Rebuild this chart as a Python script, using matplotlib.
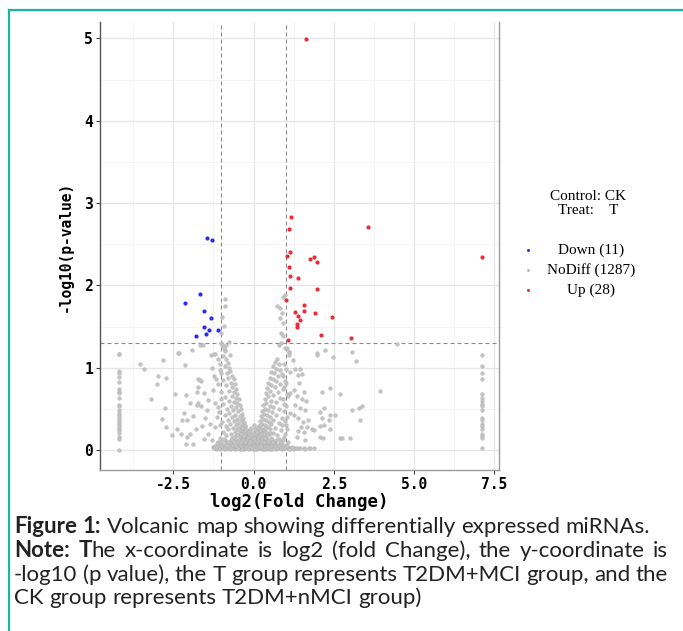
import numpy as np
import matplotlib
matplotlib.use('Agg')
import matplotlib.pyplot as plt
from matplotlib.lines import Line2D

# ---------------- values ----------------
up_x = [1.63, 1.165, 1.10, 3.56, 1.15, 1.05, 1.89, 1.745, 1.975, 1.09, 1.13, 1.38, 1.13, 1.99,
        1.01, 1.56, 1.29, 1.56, 1.38, 1.90, 2.45, 1.46, 1.36, 1.35, 2.10, 3.04, 1.08, 7.12]
up_y = [4.99, 2.83, 2.685, 2.71, 2.40, 2.357, 2.345, 2.317, 2.284, 2.224, 2.12, 2.09, 1.97, 1.95,
        1.82, 1.76, 1.68, 1.69, 1.63, 1.66, 1.62, 1.575, 1.53, 1.50, 1.40, 1.357, 1.34, 2.345]

down_x = [-1.45, -1.30, -1.66, -2.13, -1.535, -1.33, -1.535, -1.40, -1.10, -1.47, -1.79]
down_y = [2.58, 2.555, 1.90, 1.78, 1.685, 1.60, 1.49, 1.46, 1.455, 1.41, 1.385]

# the two stacks of points at the extreme fold changes
left_col_x = -4.20
left_col_y = [1.17, 1.17, 0.96, 0.93, 0.89, 0.83, 0.74, 0.71, 0.69, 0.63, 0.55, 0.53, 0.49,
              0.45, 0.43, 0.40, 0.37, 0.34, 0.32, 0.29, 0.26, 0.24, 0.21, 0.16, 0.13, 0.0]
right_col_x = 7.13
right_col_y = [1.15, 1.02, 0.93, 0.86, 0.68, 0.63, 0.60, 0.56, 0.53, 0.49, 0.39, 0.36, 0.32,
               0.29, 0.26, 0.20, 0.17, 0.15, 0.02]

grey_left = [(-3.55, 1.05), (-3.40, 0.98), (-2.81, 1.09), (-2.35, 1.18), (-1.93, 1.22), (-2.12, 1.03),
             (-2.97, 0.90), (-2.71, 0.87), (-3.01, 0.80), (-3.18, 0.62), (-2.45, 0.68), (-2.11, 0.67),
             (-1.74, 0.86), (-1.64, 0.84), (-1.74, 0.77), (-1.76, 0.71), (-1.54, 0.69), (-2.76, 0.51),
             (-2.84, 0.38), (-2.71, 0.28), (-2.55, 0.18), (-1.98, 0.575), (-1.72, 0.57), (-1.62, 0.53),
             (-2.16, 0.45), (-2.24, 0.365), (-2.06, 0.365), (-1.88, 0.41), (-2.37, 0.25), (-2.26, 0.20),
             (-2.08, 0.16), (-1.98, 0.195), (-2.11, 0.07), (-1.88, 0.07), (-1.80, 0.25), (-1.60, 0.29),
             (-1.51, 0.385), (-1.41, 0.61), (-1.46, 0.48), (-1.54, 0.13), (-1.41, 0.20), (-1.36, 0.32),
             (-1.30, 0.12), (-1.26, 0.04), (-1.22, 0.90), (-1.18, 0.86), (-1.29, 1.00), (-1.33, 1.15),
             (-1.67, 1.28), (-1.57, 1.28), (-1.22, 1.17), (-1.12, 1.11), (-1.26, 0.73), (-1.20, 0.57),
             (-1.14, 0.405), (-1.20, 0.28), (-2.31, 1.175), (-1.19, 1.17), (-1.66, 0.85), (-1.76, 0.55),
             (-1.04, 1.05), (-1.00, 0.93), (-1.10, 0.80), (-1.02, 0.62), (-1.12, 0.52), (-1.05, 0.30),
             (-1.12, 0.10)]

grey_near_cut = [(-0.90, 1.84), (-0.88, 1.75), (-0.98, 1.61), (-0.93, 1.51), (-1.02, 1.42), (-0.75, 1.31),
                 (-0.85, 1.28), (-1.02, 1.30), (-0.88, 1.21), (-0.73, 1.15), (0.73, 1.75), (0.81, 1.72),
                 (0.92, 1.86), (0.99, 1.88), (0.88, 1.67), (0.83, 1.60), (0.93, 1.54), (0.86, 1.42),
                 (0.92, 1.38), (0.85, 1.30), (0.78, 1.28), (1.04, 1.24), (1.12, 1.19), (1.10, 1.15),
                 (4.47, 1.29)]

grey_right = [(0.99, 1.24), (1.09, 1.19), (1.23, 1.09), (1.14, 0.95), (1.30, 0.98), (1.40, 0.91),
              (1.51, 0.92), (1.43, 0.81), (1.25, 0.73), (1.14, 0.69), (1.58, 0.70), (1.35, 0.65),
              (1.51, 0.62), (1.64, 0.59), (1.30, 0.55), (1.45, 0.51), (1.61, 0.49), (1.25, 0.425),
              (1.40, 0.385), (1.54, 0.345), (1.71, 0.37), (1.82, 0.26), (1.66, 0.275), (1.48, 0.275),
              (1.40, 0.235), (1.56, 0.22), (1.87, 0.24), (1.35, 0.16), (1.61, 0.12), (1.25, 0.03),
              (1.40, 0.03), (1.56, 0.03), (1.74, 0.03), (1.99, 1.18), (1.99, 1.16), (2.23, 1.22),
              (2.47, 1.13), (3.07, 1.19), (3.19, 1.085), (2.13, 0.70), (2.37, 0.75), (2.68, 0.68),
              (3.95, 0.72), (2.08, 0.465), (2.21, 0.505), (2.39, 0.425), (2.55, 0.425), (2.13, 0.385),
              (2.34, 0.365), (2.06, 0.29), (2.20, 0.30), (2.39, 0.26), (3.07, 0.49), (3.27, 0.51),
              (3.38, 0.53), (3.32, 0.37), (2.06, 0.16), (2.16, 0.14), (2.68, 0.15), (2.75, 0.15),
              (3.01, 0.15), (1.77, 0.02), (1.87, 0.03), (1.45, 0.98), (0.95, 1.05), (1.00, 0.98),
              (0.92, 0.90), (1.02, 0.82), (0.96, 0.76), (1.04, 0.68), (0.93, 0.62), (1.00, 0.54),
              (0.94, 0.47), (1.05, 0.40), (0.98, 0.35), (0.90, 0.30), (1.03, 0.26), (0.97, 0.20),
              (0.92, 0.12), (1.06, 0.10), (1.00, 0.06)]

grey_arm_left = [(-0.98, 1.28), (-0.93, 1.24), (-0.88, 1.20), (-0.95, 1.14), (-0.85, 1.10), (-0.80, 1.06),
                 (-0.90, 1.02), (-0.76, 1.00), (-0.72, 0.96), (-0.83, 0.94), (-1.05, 0.97), (-0.68, 0.90),
                 (-0.78, 0.88), (-0.62, 0.86), (-0.95, 0.85), (-0.70, 0.82), (-0.58, 0.80), (-0.86, 0.79),
                 (-0.66, 0.76), (-0.55, 0.74), (-0.75, 0.72), (-1.00, 0.70), (-0.60, 0.70), (-0.50, 0.68),
                 (-0.68, 0.66), (-0.88, 0.64), (-0.56, 0.63), (-0.45, 0.62), (-0.75, 0.60), (-0.62, 0.58),
                 (-0.50, 0.57), (-0.95, 0.56), (-0.42, 0.55), (-0.70, 0.54), (-0.55, 0.52), (-0.82, 0.50),
                 (-0.40, 0.50), (-0.64, 0.48), (-0.48, 0.47), (-1.08, 0.46), (-0.75, 0.45), (-0.36, 0.44),
                 (-0.57, 0.43), (-0.88, 0.42), (-0.43, 0.41), (-0.68, 0.40), (-0.32, 0.39), (-0.52, 0.38),
                 (-0.80, 0.37), (-0.40, 0.36), (-0.62, 0.35), (-0.98, 0.34), (-0.30, 0.34), (-0.47, 0.33),
                 (-0.72, 0.32), (-0.36, 0.31), (-0.56, 0.30), (-0.86, 0.29), (-0.27, 0.29), (-0.43, 0.28),
                 (-0.65, 0.27), (-0.33, 0.26), (-0.50, 0.25), (-0.78, 0.25), (-0.24, 0.24), (-0.40, 0.23),
                 (-0.95, 0.22), (-0.58, 0.22), (-0.30, 0.21), (-0.70, 0.20), (-0.46, 0.20), (-0.20, 0.19),
                 (-0.36, 0.18), (-0.85, 0.18), (-0.55, 0.17), (-0.26, 0.16), (-1.05, 0.15), (-0.66, 0.15),
                 (-0.42, 0.14), (-0.17, 0.14)]

grey_arm_right = [(0.72, 1.10), (0.66, 1.07), (0.78, 1.04), (0.60, 1.02), (0.70, 0.99), (0.84, 0.97),
                  (0.55, 0.95), (0.64, 0.93), (0.90, 0.92), (0.76, 0.90), (0.50, 0.88), (0.60, 0.86),
                  (0.70, 0.84), (0.98, 0.84), (0.46, 0.82), (0.82, 0.80), (0.56, 0.79), (0.66, 0.76),
                  (0.42, 0.75), (0.92, 0.74), (0.52, 0.72), (0.75, 0.70), (0.38, 0.69), (0.60, 0.67),
                  (1.08, 0.66), (0.46, 0.65), (0.84, 0.63), (0.35, 0.62), (0.54, 0.60), (0.70, 0.58),
                  (0.40, 0.57), (0.96, 0.56), (0.30, 0.55), (0.50, 0.54), (0.62, 0.52), (0.36, 0.50),
                  (0.80, 0.50), (0.45, 0.48), (0.27, 0.47), (0.58, 0.46), (1.15, 0.45), (0.33, 0.44),
                  (0.70, 0.43), (0.42, 0.42), (0.24, 0.41), (0.52, 0.40), (0.90, 0.39), (0.30, 0.38),
                  (0.62, 0.37), (0.38, 0.36), (0.21, 0.35), (0.48, 0.34), (0.78, 0.33), (0.28, 0.32),
                  (0.56, 0.31), (0.36, 0.30), (1.02, 0.30), (0.18, 0.29), (0.44, 0.28), (0.66, 0.27),
                  (0.25, 0.26), (0.52, 0.25), (0.33, 0.24), (0.86, 0.24), (0.15, 0.23), (0.40, 0.22),
                  (0.60, 0.21), (0.22, 0.20), (0.47, 0.19), (0.30, 0.18), (0.74, 0.18), (0.12, 0.17),
                  (0.38, 0.16), (0.96, 0.16), (0.55, 0.15), (0.20, 0.14)]

grey_blob = [(-1.22, 0.02), (-1.16, 0.01), (-1.10, 0.03), (-1.04, 0.01), (-0.98, 0.02), (-0.93, 0.04),
             (-0.88, 0.01), (-0.83, 0.03), (-0.78, 0.02), (-0.73, 0.01), (-0.68, 0.04), (-0.63, 0.02),
             (-0.58, 0.01), (-0.54, 0.03), (-0.50, 0.02), (-0.46, 0.04), (-0.42, 0.01), (-0.38, 0.03),
             (-0.34, 0.02), (-0.30, 0.01), (-0.26, 0.04), (-0.22, 0.02), (-0.18, 0.03), (-0.14, 0.01),
             (-0.10, 0.02), (-0.06, 0.04), (-0.02, 0.01), (0.02, 0.03), (0.06, 0.02), (0.10, 0.01),
             (0.14, 0.04), (0.18, 0.02), (0.22, 0.03), (0.26, 0.01), (0.30, 0.02), (0.34, 0.04),
             (0.38, 0.01), (0.42, 0.03), (0.46, 0.02), (0.50, 0.01), (0.55, 0.03), (0.60, 0.02),
             (0.65, 0.04), (0.70, 0.01), (0.76, 0.02), (0.82, 0.03), (0.88, 0.01), (0.94, 0.02),
             (1.07, 0.02), (1.15, 0.03), (1.23, 0.01), (1.32, 0.02), (1.45, 0.02), (1.60, 0.01),
             (-1.08, 0.07), (-0.96, 0.06), (-0.86, 0.08), (-0.77, 0.06), (-0.70, 0.09), (-0.62, 0.07),
             (-0.55, 0.06), (-0.49, 0.09), (-0.43, 0.07), (-0.37, 0.06), (-0.32, 0.08), (-0.27, 0.06),
             (-0.22, 0.09), (-0.17, 0.07), (-0.12, 0.06), (-0.08, 0.08), (-0.03, 0.07), (0.01, 0.09),
             (0.05, 0.06), (0.09, 0.08), (0.13, 0.07), (0.17, 0.09), (0.21, 0.06), (0.25, 0.08),
             (0.29, 0.07), (0.33, 0.09), (0.37, 0.06), (0.42, 0.08), (0.47, 0.07), (0.53, 0.06),
             (0.59, 0.09), (0.66, 0.07), (0.73, 0.06), (0.81, 0.08), (0.90, 0.07),
             (-0.88, 0.12), (-0.74, 0.11), (-0.62, 0.13), (-0.52, 0.11), (-0.44, 0.12), (-0.36, 0.13),
             (-0.30, 0.11), (-0.24, 0.12), (-0.19, 0.10), (-0.13, 0.12), (-0.08, 0.13), (-0.04, 0.11),
             (0.00, 0.12), (0.04, 0.10), (0.08, 0.13), (0.12, 0.11), (0.16, 0.12), (0.20, 0.10),
             (0.25, 0.12), (0.31, 0.13), (0.36, 0.11), (0.43, 0.12), (0.50, 0.10), (0.58, 0.12),
             (0.67, 0.11), (0.78, 0.13),
             (-0.33, 0.15), (-0.25, 0.17), (-0.20, 0.21), (-0.13, 0.16), (-0.10, 0.19), (-0.05, 0.15),
             (0.00, 0.17), (0.03, 0.20), (0.07, 0.16), (0.10, 0.18), (0.14, 0.15), (0.25, 0.17),
             (0.28, 0.21), (-0.28, 0.20), (-0.16, 0.22), (0.06, 0.22)]

grey_blob_extra = [(-1.19, 0.05), (-1.13, 0.04), (-1.01, 0.05), (-0.90, 0.03), (-0.80, 0.05), (-0.71, 0.03),
                   (-0.65, 0.06), (-0.56, 0.05), (-0.48, 0.03), (-0.40, 0.05), (-0.36, 0.01), (-0.28, 0.03),
                   (-0.20, 0.05), (-0.16, 0.02), (-0.12, 0.04), (-0.04, 0.03), (0.00, 0.05), (0.04, 0.01),
                   (0.08, 0.04), (0.12, 0.03), (0.16, 0.05), (0.20, 0.02), (0.24, 0.05), (0.28, 0.03),
                   (0.32, 0.01), (0.36, 0.05), (0.40, 0.02), (0.44, 0.05), (0.48, 0.03), (0.53, 0.05),
                   (0.57, 0.01), (0.63, 0.03), (0.68, 0.05), (0.73, 0.03), (0.79, 0.05), (0.85, 0.02),
                   (0.91, 0.04), (0.98, 0.03), (1.03, 0.05), (1.11, 0.01), (1.19, 0.04),
                   (-1.15, 0.09), (-1.00, 0.10), (-0.93, 0.13), (-0.80, 0.10), (-0.68, 0.12), (-0.57, 0.09),
                   (-0.47, 0.10), (-0.40, 0.10), (-0.33, 0.12), (-0.27, 0.10), (-0.21, 0.13), (-0.15, 0.09),
                   (-0.10, 0.11), (-0.06, 0.10), (-0.02, 0.13), (0.02, 0.11), (0.06, 0.12), (0.10, 0.10),
                   (0.14, 0.13), (0.18, 0.11), (0.23, 0.10), (0.28, 0.11), (0.33, 0.10), (0.39, 0.13),
                   (0.46, 0.11), (0.54, 0.13), (0.62, 0.10), (0.71, 0.12), (0.85, 0.10),
                   (-0.60, 0.16), (-0.50, 0.18), (-0.45, 0.24), (-0.38, 0.20), (-0.35, 0.27), (-0.30, 0.17),
                   (-0.22, 0.25), (-0.18, 0.16), (-0.14, 0.20), (-0.11, 0.24), (-0.07, 0.18), (-0.03, 0.21),
                   (0.01, 0.15), (0.04, 0.25), (0.09, 0.20), (0.12, 0.22), (0.16, 0.17), (0.19, 0.24),
                   (0.23, 0.19), (0.27, 0.15), (0.32, 0.20), (0.35, 0.27), (0.42, 0.18), (0.50, 0.21),
                   (0.36, 0.15), (-0.08, 0.27), (0.14, 0.28), (-0.27, 0.30), (0.20, 0.30), (0.00, 0.30)]

fc_cut = 1.0
p_cut = 0.05

legend_labels = ['Down (11)', 'NoDiff (1287)', 'Up (28)']
x_ticks = [-2.5, 0.0, 2.5, 5.0, 7.5]
x_ticklabels = ['-2.5', '0.0', '2.5', '5.0', '7.5']
y_ticks = [0, 1, 2, 3, 4, 5]

caption = [
    [[('Figure', True)], [('1:', True)], [('Volcanic', False)], [('map', False)], [('showing', False)],
     [('differentially', False)], [('expressed', False)], [('miRNAs.', False)]],
    [[('Note:', True)], [('T', True), ('he', False)]] +
    [[(w, False)] for w in 'x-coordinate is log2 (fold Change), the y-coordinate is'.split()],
    [[(w, False)] for w in '-log10 (p value), the T group represents T2DM+MCI group, and the'.split()],
    [[(w, False)] for w in 'CK group represents T2DM+nMCI group)'.split()],
]
justify = [False, True, True, False]

# ---------------- figure ----------------
W, H = 683, 631
fig = plt.figure(figsize=(W / 100, H / 100), dpi=100)
mono = 'DejaVu Sans Mono'
serif = 'Liberation Serif'
cap_font = 'Lato'

# teal frame of the figure box
teal = '#1bb59b'
fig.add_artist(Line2D([9 / W, 1.0], [1 - 10 / H, 1 - 10 / H], transform=fig.transFigure, color=teal, lw=1.6))
fig.add_artist(Line2D([9 / W, 9 / W], [0.0, 1 - 10 / H], transform=fig.transFigure, color=teal, lw=1.6))

ax = fig.add_axes([100 / W, 161 / H, 399.5 / W, 448 / H])
ax.set_xlim(-4.78, 7.66)
ax.set_ylim(-0.243, 5.2)

grey_pts = np.array(grey_left + grey_near_cut + grey_right + grey_arm_left + grey_arm_right
                    + grey_blob + grey_blob_extra)
gx = np.concatenate([grey_pts[:, 0], np.full(len(left_col_y), left_col_x), np.full(len(right_col_y), right_col_x)])
gy = np.concatenate([grey_pts[:, 1], left_col_y, right_col_y])

ax.scatter(gx, gy, s=7, color='#c4c4c4', edgecolors='#b0b0b0', linewidths=0.3, zorder=3)
ax.scatter(down_x, down_y, s=9, color='#2b2bf0', linewidths=0, zorder=4)
ax.scatter(up_x, up_y, s=9, color='#ee2a36', linewidths=0, zorder=4)

dash = (0, (3.6, 2.7))
ax.axvline(-fc_cut, color='#8a8a8a', lw=0.8, ls=dash, zorder=2)
ax.axvline(fc_cut, color='#8a8a8a', lw=0.8, ls=dash, zorder=2)
ax.axhline(-np.log10(p_cut), color='#8a8a8a', lw=0.8, ls=dash, zorder=2)

ax.set_xticks(x_ticks)
ax.set_xticklabels(x_ticklabels)
ax.set_yticks(y_ticks)
ax.set_xticks([-3.75, -1.25, 1.25, 3.75, 6.25], minor=True)
ax.set_yticks([0.5, 1.5, 2.5, 3.5, 4.5], minor=True)
ax.grid(which='major', color='#e6e6e6', lw=0.9, zorder=0)
ax.grid(which='minor', color='#f2f2f2', lw=0.6, zorder=0)
ax.set_axisbelow(True)
ax.tick_params(which='minor', length=0)
ax.tick_params(which='major', length=3, width=0.8, color='#444444', labelsize=10.5, pad=2)
for lab in ax.get_xticklabels() + ax.get_yticklabels():
    lab.set_fontfamily(mono)
    lab.set_fontweight('bold')

ax.spines['top'].set_visible(False)
ax.spines['left'].set_color('#555555')
ax.spines['right'].set_color('#9a9a9a')
ax.spines['bottom'].set_color('#9a9a9a')
for s in ['left', 'right', 'bottom']:
    ax.spines[s].set_linewidth(1.0)

ax.set_xlabel('log2(Fold Change)', fontfamily=mono, fontweight='bold', fontsize=12.5, labelpad=1)
ax.set_ylabel('-log10(p-value)', fontfamily=mono, fontweight='bold', fontsize=10.5, labelpad=8)

# legend, drawn like the ggplot one (title + centred labels)
fig.text(588 / W, 1 - 197 / H, 'Control: CK', family=serif, fontsize=11, ha='center', va='center')
fig.text(588 / W, 1 - 211 / H, 'Treat:    T', family=serif, fontsize=11, ha='center', va='center')
leg_colors = ['#2b2bf0', '#bdbdbd', '#ee2a36']
for i, (lab, c) in enumerate(zip(legend_labels, leg_colors)):
    yy = 1 - (250 + 20 * i) / H
    fig.add_artist(Line2D([528 / W], [yy], transform=fig.transFigure, marker='o', ms=2.2,
                          color=c, mec='none', ls='none'))
    fig.text(591 / W, yy, lab, family=serif, fontsize=11, ha='center', va='center')

# caption below the chart, with the justified middle lines
renderer = fig.canvas.get_renderer()


def text_width(s, bold, size):
    t = fig.text(0, 0, s, family=cap_font, fontsize=size, fontweight='bold' if bold else 'normal')
    w = t.get_window_extent(renderer).width
    t.remove()
    return w


def natural_width(words, size):
    sp = text_width('a a', False, size) - text_width('aa', False, size)
    return sum(text_width(seg, b, size) for w in words for seg, b in w) + sp * (len(words) - 1)


x_left, x_right = 14, 668
# size chosen so the first caption line spans the same width as in the reference
cap_size = 14.0 * (651 - x_left) / natural_width(caption[0], 14.0)
space_w = text_width('a a', False, cap_size) - text_width('aa', False, cap_size)
baselines = [533, 557, 581, 604]
for words, just, base in zip(caption, justify, baselines):
    widths = [[text_width(seg, b, cap_size) for seg, b in w] for w in words]
    total = sum(sum(ws) for ws in widths)
    gap = (x_right - x_left - total) / (len(words) - 1) if just else space_w
    x = x_left
    for w, ws in zip(words, widths):
        for (seg, b), sw in zip(w, ws):
            fig.text(x / W, 1 - base / H, seg, family=cap_font, fontsize=cap_size,
                     fontweight='bold' if b else 'normal', color='#222222', va='baseline', ha='left')
            x += sw
        x += gap

fig.savefig('out.png', dpi=100)
